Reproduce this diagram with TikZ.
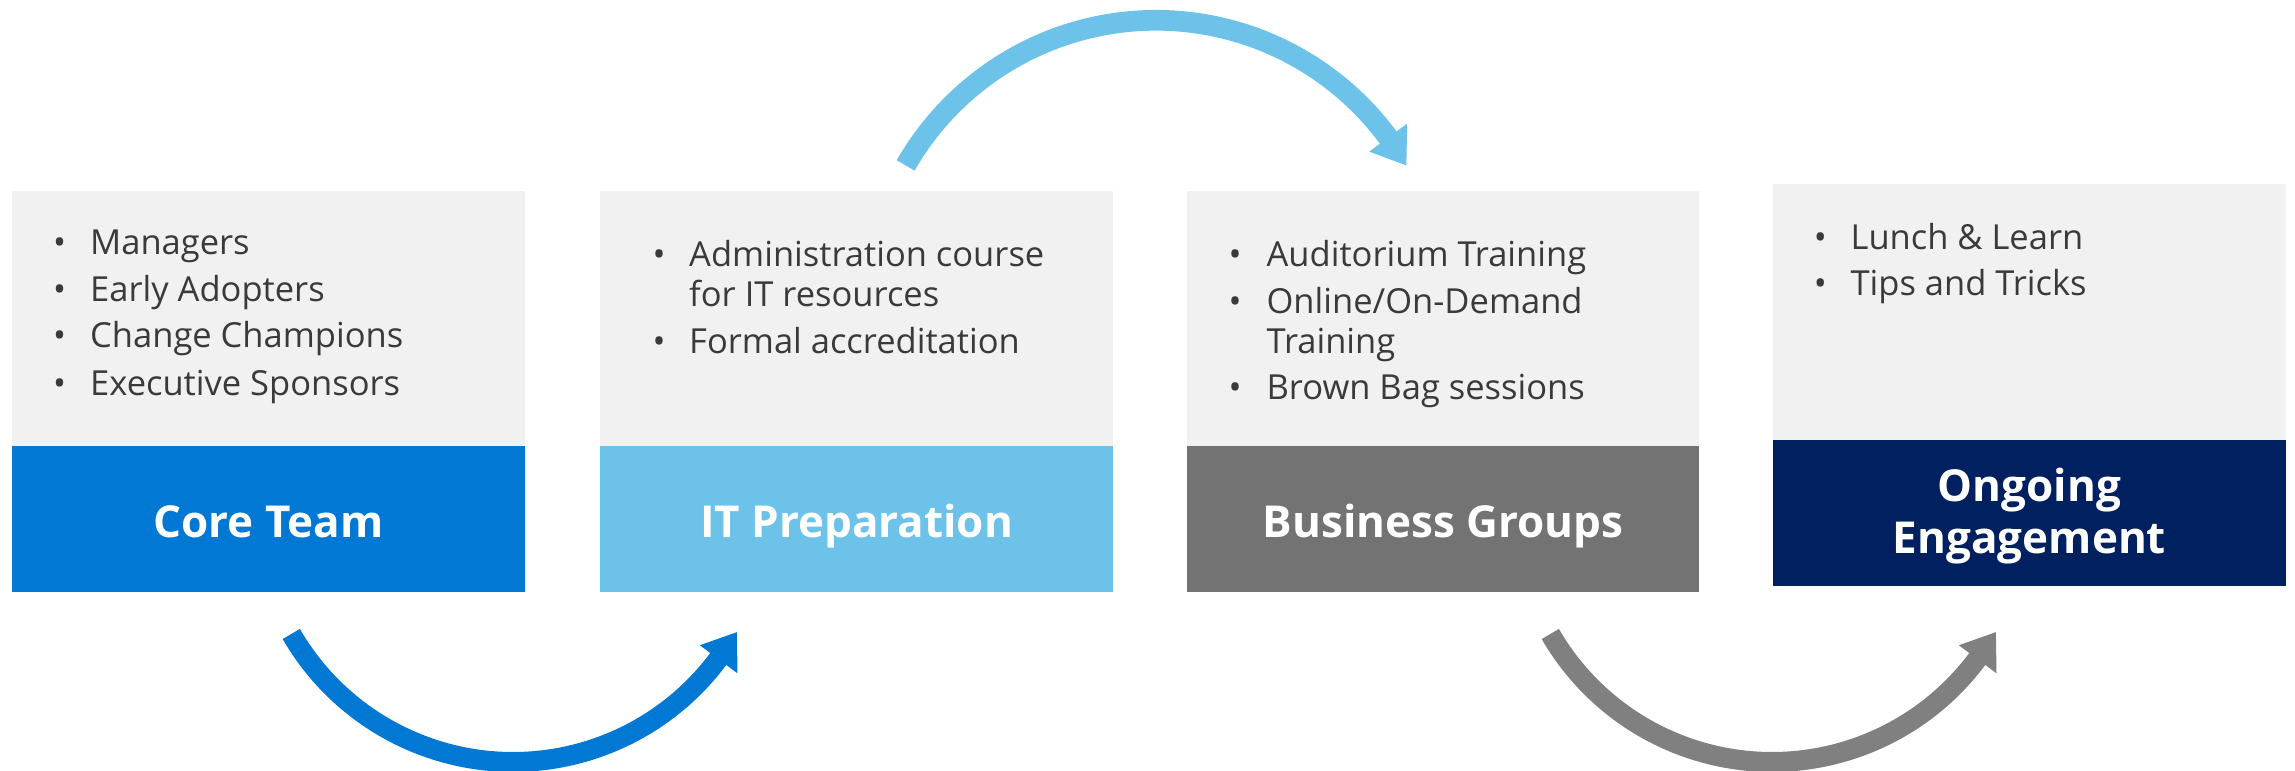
\documentclass[tikz,border=0pt]{standalone}
\usepackage{fontspec}
\setmainfont{Open Sans}
\usetikzlibrary{calc}
\definecolor{msblue}{HTML}{0078D4}
\definecolor{skyblue}{HTML}{6DC2E9}
\definecolor{boxgray}{HTML}{737373}
\definecolor{arrgray}{HTML}{808080}
\definecolor{navy}{HTML}{002060}
\definecolor{panel}{HTML}{F1F1F1}
\definecolor{txt}{HTML}{3A3A3A}
\tikzset{
  itemtxt/.style={anchor=base west, inner sep=0pt, text=txt, font=\fontsize{34.5}{40}\selectfont},
  bulletdot/.style={anchor=base, inner sep=0pt, text=txt, font=\fontsize{34.5}{40}\selectfont},
  titletxt/.style={anchor=base, inner sep=0pt, text=white, font=\fontsize{44}{52}\selectfont\bfseries},
  shaft/.style={line width=20pt, line cap=butt},
}
\begin{document}
\begin{tikzpicture}[x=1pt,y=1pt]
\useasboundingbox (0,0) rectangle (2295,771);
% boxes
\fill[panel] (12,325) rectangle (525,580);
\fill[msblue] (12,179) rectangle (525,325);
\fill[panel] (600,325) rectangle (1113,580);
\fill[skyblue] (600,179) rectangle (1113,325);
\fill[panel] (1187,325) rectangle (1699,580);
\fill[boxgray] (1187,179) rectangle (1699,325);
\fill[panel] (1773,331) rectangle (2286,587);
\fill[navy] (1773,185) rectangle (2286,331);
% box 1
\node[bulletdot] (d1a) at (59.6,516) {•};
\node[itemtxt] (t1a) at (90,516) {Managers};
\node[bulletdot] (d1b) at (59.6,469.3) {•};
\node[itemtxt] (t1b) at (90,469.3) {Early Adopters};
\node[bulletdot] (d1c) at (59.6,423) {•};
\node[itemtxt] (t1c) at (90,423) {Change Champions};
\node[bulletdot] (d1d) at (59.6,375.3) {•};
\node[itemtxt] (t1d) at (90,375.3) {Executive Sponsors};
\node[titletxt] (h1) at (268.5,233.3) {Core Team};
% box 2
\node[bulletdot] (d2a) at (659,504.3) {•};
\node[itemtxt] (t2a) at (689,504.3) {Administration course};
\node[itemtxt] (t2b) at (689,464.3) {for IT resources};
\node[bulletdot] (d2c) at (659,417.7) {•};
\node[itemtxt] (t2c) at (689,417.7) {Formal accreditation};
\node[titletxt] (h2) at (856.5,233) {IT Preparation};
% box 3
\node[bulletdot] (d3a) at (1235,504.3) {•};
\node[itemtxt] (t3a) at (1266.4,504.3) {Auditorium Training};
\node[bulletdot] (d3b) at (1235,457.7) {•};
\node[itemtxt] (t3b) at (1266.4,457.7) {Online/On-Demand};
\node[itemtxt] (t3c) at (1266.4,417.7) {Training};
\node[bulletdot] (d3d) at (1235,371) {•};
\node[itemtxt] (t3d) at (1266.4,371) {Brown Bag sessions};
\node[titletxt] (h3) at (1443,233) {Business Groups};
% box 4
\node[bulletdot] (d4a) at (1820.4,521) {•};
\node[itemtxt] (t4a) at (1850.4,521) {Lunch \& Learn};
\node[bulletdot] (d4b) at (1820.4,475) {•};
\node[itemtxt] (t4b) at (1850.4,475) {Tips and Tricks};
\node[titletxt] (h4a) at (2029.5,269.3) {Ongoing};
\node[titletxt] (h4b) at (2029.5,217.7) {Engagement};
% arrows
\coordinate (ca) at (513,265);
\coordinate (cb) at (1156,462.2);
\coordinate (cc) at (1772,265);
\draw[shaft, msblue] ($(ca)+(210:256)$) arc[start angle=210, end angle=324, radius=256];
\fill[msblue] ($(ca)+(323.3:233)$) -- ($(ca)+(330.6:257)$) -- ($(ca)+(323.3:280)$) -- cycle;
\draw[shaft, skyblue, line width=20.7pt] ($(cb)+(150.2:288.5)$) arc[start angle=150.2, end angle=35.7, radius=288.5];
\fill[skyblue] ($(cb)+(36.4:264.9)$) -- ($(cb)+(29.8:288.5)$) -- ($(cb)+(36.4:312.1)$) -- cycle;
\draw[shaft, arrgray] ($(cc)+(210:256)$) arc[start angle=210, end angle=324, radius=256];
\fill[arrgray] ($(cc)+(323.3:233)$) -- ($(cc)+(330.6:257)$) -- ($(cc)+(323.3:280)$) -- cycle;
\end{tikzpicture}
\end{document}
